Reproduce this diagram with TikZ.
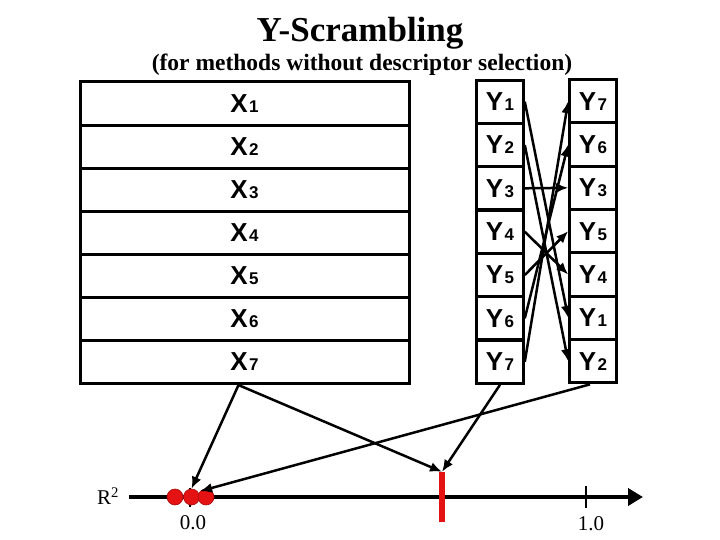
\documentclass[tikz,border=0pt]{standalone}
\usepackage{fontspec}
\setmainfont{Liberation Serif}
\newfontfamily\arialfont{Liberation Sans}
\usepackage{tikz}
\usetikzlibrary{arrows.meta}
\definecolor{dotred}{RGB}{228, 18, 18}
\newcommand{\lbl}[2]{#1\kern1.5pt{\fontsize{17}{17}\selectfont #2}}

\begin{document}
\begin{tikzpicture}[x=1pt, y=-1pt,
    xrow/.style={draw, line width=3pt, minimum width=329pt, minimum height=43.1pt,
                 inner sep=0pt, font=\arialfont\bfseries\fontsize{26}{26}\selectfont},
    ycell/.style={draw, line width=3pt, minimum width=46.6pt, minimum height=43.3pt,
                  inner sep=0pt, font=\arialfont\bfseries\fontsize{26}{26}\selectfont},
    arr/.style={-{Latex[length=12pt, width=10pt]}, line width=2.5pt},
    dot/.style={circle, fill=dotred, draw=dotred!75!black, line width=0.6pt,
                minimum size=16pt, inner sep=0pt},
]
\useasboundingbox (0,0) rectangle (720,540);

% titles
\node[anchor=base, font=\bfseries\fontsize{35}{35}\selectfont] (title) at (360,42) {Y-Scrambling};
\node[anchor=base, font=\bfseries\fontsize{23.5}{23.5}\selectfont] (subtitle) at (362,71) {(for methods without descriptor selection)};

% descriptor table
\node[xrow] (x1) at (244.5,103.5) {\lbl{X}{1}};
\node[xrow] (x2) at (244.5,146.6) {\lbl{X}{2}};
\node[xrow] (x3) at (244.5,189.7) {\lbl{X}{3}};
\node[xrow] (x4) at (244.5,232.8) {\lbl{X}{4}};
\node[xrow] (x5) at (244.5,275.8) {\lbl{X}{5}};
\node[xrow] (x6) at (244.5,318.9) {\lbl{X}{6}};
\node[xrow] (x7) at (244.5,362.0) {\lbl{X}{7}};

% original responses
\node[ycell] (yl1) at (500,101.7) {\lbl{Y}{1}};
\node[ycell] (yl2) at (500,145.0) {\lbl{Y}{2}};
\node[ycell] (yl3) at (500,188.3) {\lbl{Y}{3}};
\node[ycell] (yl4) at (500,231.7) {\lbl{Y}{4}};
\node[ycell] (yl5) at (500,275.0) {\lbl{Y}{5}};
\node[ycell] (yl6) at (500,318.3) {\lbl{Y}{6}};
\node[ycell] (yl7) at (500,361.7) {\lbl{Y}{7}};

% scrambled responses
\node[ycell] (yr1) at (593,101.2) {\lbl{Y}{7}};
\node[ycell] (yr2) at (593,144.5) {\lbl{Y}{6}};
\node[ycell] (yr3) at (593,187.8) {\lbl{Y}{3}};
\node[ycell] (yr4) at (593,231.2) {\lbl{Y}{5}};
\node[ycell] (yr5) at (593,274.5) {\lbl{Y}{4}};
\node[ycell] (yr6) at (593,317.8) {\lbl{Y}{1}};
\node[ycell] (yr7) at (593,361.2) {\lbl{Y}{2}};

\draw[arr] (yl1.east) -- (yr6.west);
\draw[arr] (yl2.east) -- (yr7.west);
\draw[arr] (yl3.east) -- (yr3.west);
\draw[arr] (yl4.east) -- (yr5.west);
\draw[arr] (yl5.east) -- (yr4.west);
\draw[arr] (yl6.east) -- (yr2.west);
\draw[arr] (yl7.east) -- (yr1.west);

% R^2 axis
\coordinate (ax0) at (129,497);
\coordinate (ax1) at (643,497);
\draw[line width=2.8pt] (190,488) -- (190,507);
\draw[line width=2.8pt] (586,486) -- (586,508);
\draw[line width=4.5pt, -{Triangle[length=15pt, width=17pt]}] (ax0) -- (ax1);
\node[font=\fontsize{21}{21}\selectfont] (r2) at (108,496) {R\textsuperscript{2}};
\node[font=\fontsize{21}{21}\selectfont] (zero) at (193,523) {0.0};
\node[font=\fontsize{21}{21}\selectfont] (one) at (591,524) {1.0};

\node[dot] (d1) at (175,497) {};
\node[dot] (d2) at (191.5,497) {};
\node[dot] (d3) at (206,497) {};
\node[fill=dotred, minimum width=6.5pt, minimum height=50pt, inner sep=0pt] (bar) at (442,497) {};

\draw[arr] ([xshift=-6pt]x7.south) -- (d2.north);
\draw[arr] ([xshift=-6pt]x7.south) -- (bar.north);
\draw[arr] (yl7.south) -- (bar.north);
\draw[arr] ([xshift=-3pt]yr7.south) -- (d3.north west);
\end{tikzpicture}
\end{document}
